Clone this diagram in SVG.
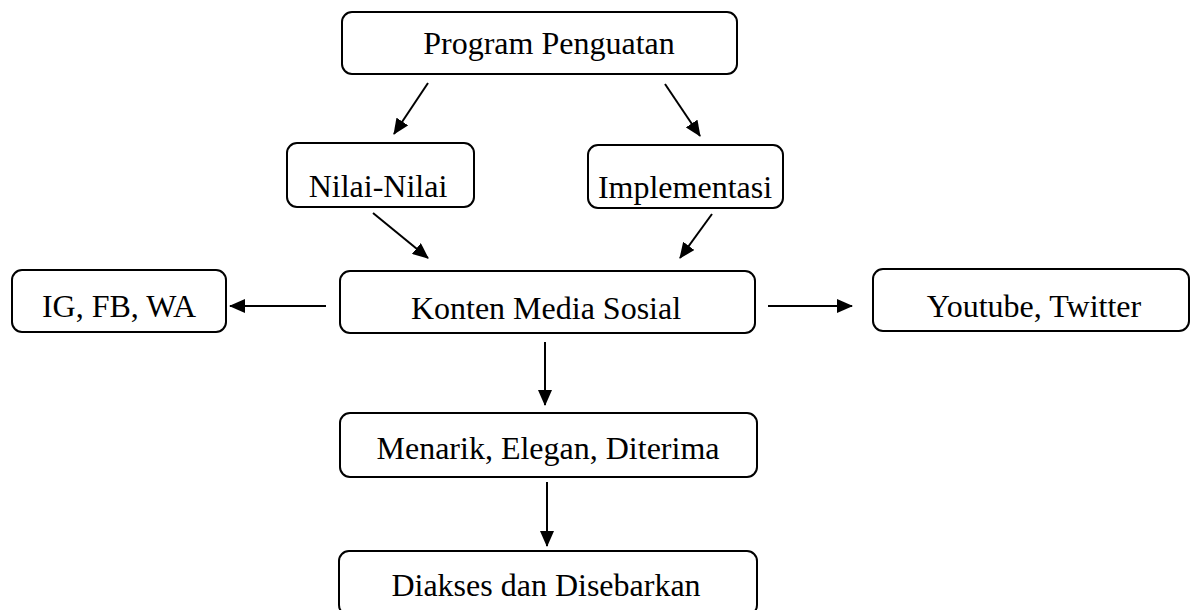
<svg xmlns="http://www.w3.org/2000/svg" width="1193" height="610" viewBox="0 0 1193 610">
<style>
.box{fill:#fff;stroke:#000;stroke-width:2}
.t{font-family:"Liberation Serif","Times New Roman",serif;font-size:32px;fill:#000;text-anchor:middle}
.c{stroke:#000;stroke-width:2;fill:none}
</style>
<defs>
<marker id="ah" markerUnits="userSpaceOnUse" markerWidth="16" markerHeight="14" refX="15" refY="7" orient="auto">
<path d="M0,0 L16,7 L0,14 Z" fill="#000"/>
</marker>
</defs>
<rect width="1193" height="610" fill="#fff"/>
<g id="n-program"><rect class="box" x="342" y="12" width="395" height="62" rx="10"/><text class="t" x="549" y="54">Program Penguatan</text></g>
<g id="n-nilai"><rect class="box" x="287" y="143" width="187" height="64" rx="10"/><text class="t" x="378" y="197">Nilai-Nilai</text></g>
<g id="n-impl"><rect class="box" x="588" y="145" width="195" height="63" rx="10"/><text class="t" x="685" y="198">Implementasi</text></g>
<g id="n-ig"><rect class="box" x="12" y="270" width="214" height="62" rx="10"/><text class="t" x="119" y="317">IG, FB, WA</text></g>
<g id="n-konten"><rect class="box" x="340" y="271" width="415" height="62" rx="10"/><text class="t" x="546" y="319">Konten Media Sosial</text></g>
<g id="n-yt"><rect class="box" x="873" y="269" width="316" height="62" rx="10"/><text class="t" x="1034" y="317">Youtube, Twitter</text></g>
<g id="n-menarik"><rect class="box" x="340" y="413" width="417" height="64" rx="10"/><text class="t" x="548" y="459">Menarik, Elegan, Diterima</text></g>
<g id="n-diakses"><rect class="box" x="339" y="551" width="418" height="64" rx="10"/><text class="t" x="546" y="596">Diakses dan Disebarkan</text></g>
<g id="connectors">
<line class="c" x1="428" y1="83" x2="394" y2="134" marker-end="url(#ah)"/>
<line class="c" x1="665" y1="84" x2="700" y2="136" marker-end="url(#ah)"/>
<line class="c" x1="373" y1="213" x2="428" y2="258" marker-end="url(#ah)"/>
<line class="c" x1="712" y1="214" x2="680" y2="258" marker-end="url(#ah)"/>
<line class="c" x1="326" y1="306" x2="230" y2="306" marker-end="url(#ah)"/>
<line class="c" x1="768" y1="306" x2="852" y2="306" marker-end="url(#ah)"/>
<line class="c" x1="545" y1="342" x2="545" y2="405" marker-end="url(#ah)"/>
<line class="c" x1="547" y1="482" x2="547" y2="546" marker-end="url(#ah)"/>
</g>
</svg>
